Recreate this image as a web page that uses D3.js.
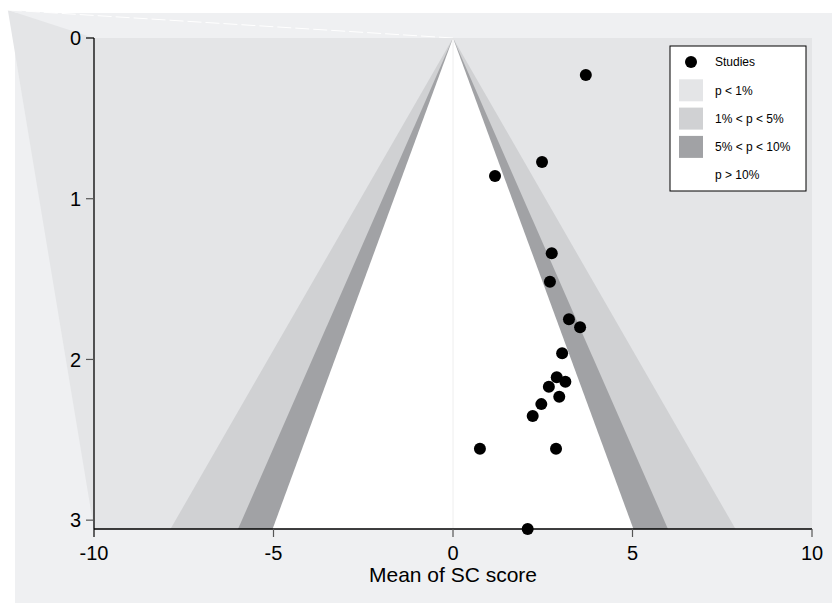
<!DOCTYPE html>
<html>
<head>
<meta charset="utf-8">
<script src="https://cdn.jsdelivr.net/npm/d3@7"></script>
<style>
  body { margin: 0; background: #fff; }
  text { font-family: "Liberation Sans", Arial, sans-serif; }
</style>
</head>
<body>
<div id="chart"></div>
<script>
// study estimates (mean of SC score) and their standard errors
const effect = [3.70, 2.48, 1.17, 2.75, 2.70, 3.23, 3.54, 3.04, 2.89, 3.13, 2.67, 2.96, 2.46, 2.22, 0.75, 2.87, 2.08];
const stdErr = [0.230, 0.772, 0.859, 1.340, 1.517, 1.750, 1.800, 1.962, 2.111, 2.139, 2.170, 2.232, 2.278, 2.352, 2.556, 2.556, 3.055];

const xTicks = [-10, -5, 0, 5, 10];
const yTicks = [0, 1, 2, 3];
const seMax = 3.055;

// significance contours (z values) and their fills
const contourZ = [2.576, 1.96, 1.645];
const contourFill = ["#d0d1d3", "#a1a2a5", "#ffffff"];
const legendLabels = ["Studies", "p < 1%", "1% < p < 5%", "5% < p < 10%", "p > 10%"];
const legendFill = ["#e4e5e7", "#d0d1d3", "#a1a2a5", "#ffffff"];

let w = 832;
let h = 603;

let svg = d3.select("#chart")
    .append("svg")
    .attr("width", w)
    .attr("height", h);

let x = d3.scaleLinear().domain([-10, 10]).range([94, 812]);
let y = d3.scaleLinear().domain([0, seMax]).range([38, 529]);

// graph region
svg.append("rect")
    .attr("x", 15).attr("y", 13)
    .attr("width", w - 15).attr("height", h - 13)
    .attr("fill", "#eff0f2");

// the p<1% area spills outside the plot region (as in the original export)
const spill = [[-12.4, -0.174], [0, 0], [-10, 0]];
const spillDark = [[-12.4, -0.174], [-10, 0], [-10, seMax]];
let line = d3.line().x(d => x(d[0])).y(d => y(d[1]));
svg.append("path").attr("d", line(spill) + "Z").attr("fill", "#eff0f2");
svg.append("path").attr("d", line(spillDark) + "Z").attr("fill", "#e4e5e7");
svg.append("path")
    .attr("d", line([spill[0], spill[1]]))
    .attr("stroke", "#fff").attr("stroke-width", 1)
    .attr("stroke-dasharray", "14,4");

// plot region = p < 1%
svg.append("rect")
    .attr("x", x(-10)).attr("y", y(0))
    .attr("width", x(10) - x(-10)).attr("height", y(seMax) - y(0))
    .attr("fill", "#e4e5e7");

svg.selectAll("path.contour")
    .data(contourZ)
    .enter()
    .append("path")
    .attr("class", "contour")
    .attr("d", z => line([[0, 0], [-z * seMax, seMax], [z * seMax, seMax]]) + "Z")
    .attr("fill", (z, i) => contourFill[i]);

// faint line at 0
svg.append("path")
    .attr("d", line([[0, 0], [0, seMax]]))
    .attr("stroke", "#eeeeee").attr("stroke-width", 1);

// y axis
svg.append("line")
    .attr("x1", x(-10)).attr("x2", x(-10))
    .attr("y1", y(0)).attr("y2", y(seMax))
    .attr("stroke", "#000").attr("stroke-width", 1.3);
let yt = svg.selectAll("g.ytick").data(yTicks).enter().append("g");
yt.append("line")
    .attr("x1", x(-10) - 8).attr("x2", x(-10))
    .attr("y1", d => y(d)).attr("y2", d => y(d))
    .attr("stroke", d => d === 0 ? "#000" : "#555").attr("stroke-width", 1.2);
yt.append("text")
    .attr("x", x(-10) - 13).attr("y", d => y(d))
    .attr("dy", "0.36em")
    .attr("text-anchor", "end")
    .attr("font-size", 20)
    .text(d => d);

// x axis
svg.append("line")
    .attr("x1", x(-10)).attr("x2", x(10))
    .attr("y1", y(seMax)).attr("y2", y(seMax))
    .attr("stroke", "#000").attr("stroke-width", 1.3);
let xt = svg.selectAll("g.xtick").data(xTicks).enter().append("g");
xt.append("line")
    .attr("x1", d => x(d)).attr("x2", d => x(d))
    .attr("y1", y(seMax)).attr("y2", y(seMax) + 8)
    .attr("stroke", d => d === -10 ? "#000" : "#555").attr("stroke-width", 1.2);
xt.append("text")
    .attr("x", d => x(d)).attr("y", 560)
    .attr("text-anchor", "middle")
    .attr("font-size", 20)
    .text(d => d);

svg.append("text")
    .attr("x", x(0)).attr("y", 582)
    .attr("text-anchor", "middle")
    .attr("font-size", 21)
    .text("Mean of SC score");

// studies
svg.selectAll("circle.study")
    .data(effect)
    .enter()
    .append("circle")
    .attr("class", "study")
    .attr("cx", d => x(d))
    .attr("cy", (d, i) => y(stdErr[i]))
    .attr("r", 6)
    .attr("fill", "#000");

// legend
let lg = svg.append("g").attr("transform", "translate(670,46)");
lg.append("rect")
    .attr("width", 136).attr("height", 145)
    .attr("fill", "#fff").attr("stroke", "#000").attr("stroke-width", 1);
let rows = lg.selectAll("g.row").data(legendLabels).enter().append("g")
    .attr("transform", (d, i) => `translate(0,${16 + i * 28.3})`);
rows.filter((d, i) => i === 0).append("circle")
    .attr("cx", 21).attr("cy", 0).attr("r", 6).attr("fill", "#000");
rows.filter((d, i) => i > 0).append("rect")
    .attr("x", 9).attr("y", -11).attr("width", 24).attr("height", 22)
    .attr("fill", (d, i) => legendFill[i]);
rows.append("text")
    .attr("x", 45).attr("y", 0).attr("dy", "0.35em")
    .attr("font-size", 12)
    .text(d => d);
</script>
</body>
</html>
